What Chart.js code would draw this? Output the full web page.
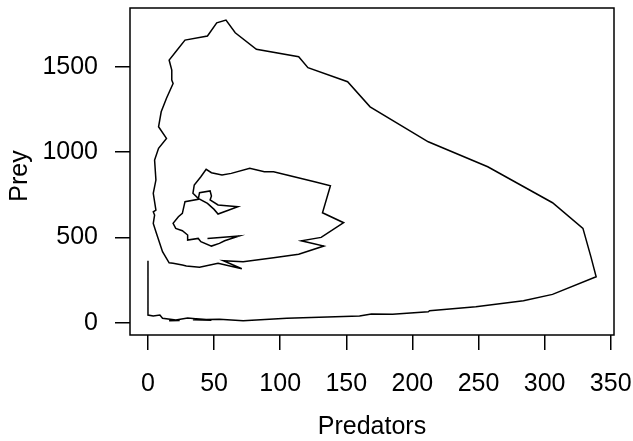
<!DOCTYPE html>
<html>
<head>
<meta charset="utf-8">
<script src="https://cdn.jsdelivr.net/npm/chart.js@4/dist/chart.umd.min.js"></script>
<style>
  html, body { margin: 0; padding: 0; background: #fff; }
</style>
</head>
<body>
<canvas id="chart" width="633" height="441"></canvas>
<script>
// trajectory, in drawing order
const predators = [45, 69, 58, 54, 48, 40, 38, 30, 30, 26, 21, 19, 23, 26, 28, 38, 39, 47, 48, 47,
  53, 68, 53, 50, 45, 38, 34, 35, 40, 44, 48, 56, 63, 77, 88, 95, 126, 138, 132, 148,
  131, 116, 133, 114, 95, 72, 57, 71, 53, 39, 29, 26, 19, 16, 11, 6, 4, 5, 4, 6,
  4, 6, 5, 8, 14, 8, 10, 14, 19, 18, 18, 16, 21, 28, 45, 52, 59, 66, 82, 114,
  121, 151, 168, 212, 257, 306, 329, 335, 339, 306, 284, 248, 213, 212, 185, 169, 160, 105, 72, 54,
  34, 48, 30, 21, 16, 24, 11, 9, 4, 0, 0];
const prey = [494, 508, 480, 465, 449, 475, 494, 484, 514, 539, 553, 582, 621, 641, 709, 723, 762, 772, 742, 719,
  690, 680, 637, 664, 699, 729, 758, 807, 855, 899, 879, 865, 875, 905, 885, 885, 826, 803, 644, 586,
  500, 480, 449, 401, 381, 357, 363, 316, 348, 325, 332, 338, 348, 351, 416, 533, 582, 631, 650, 660,
  758, 836, 953, 1022, 1080, 1148, 1236, 1315, 1402, 1422, 1480, 1539, 1588, 1656, 1680, 1757, 1773, 1699, 1602, 1558,
  1494, 1412, 1265, 1060, 914, 703, 553, 387, 269, 166, 129, 94, 70, 64, 49, 51, 39, 26, 12, 20,
  18, 14, 28, 16, 12, 13, 26, 45, 39, 45, 363];

const xTicks = [0, 50, 100, 150, 200, 250, 300, 350];
const yTicks = [0, 500, 1000, 1500];
const xLabel = 'Predators';
const yLabel = 'Prey';

const FONT = 'Liberation Sans';
const SIZE = 25;

// R style box around the plot region, plus the y label placed like mtext
const boxPlugin = {
  id: 'box',
  afterDraw(chart) {
    const { ctx, chartArea: a } = chart;
    ctx.save();
    ctx.strokeStyle = '#000';
    ctx.lineWidth = 1.5;
    ctx.strokeRect(a.left, a.top, a.right - a.left, a.bottom - a.top);
    ctx.translate(20, 176);
    ctx.rotate(-Math.PI / 2);
    ctx.fillStyle = '#000';
    ctx.font = SIZE + 'px "' + FONT + '"';
    ctx.textAlign = 'center';
    ctx.textBaseline = 'middle';
    ctx.fillText(yLabel, 0, 0);
    ctx.restore();
  }
};

// drop chart.js' automatic label padding so the plot box sits where R put it
function noPad(s) {
  s.paddingTop = 0; s.paddingBottom = 0; s.paddingLeft = 0; s.paddingRight = 0;
}

const points = predators.map((x, i) => ({ x: x, y: prey[i] }));

new Chart(document.getElementById('chart'), {
  type: 'scatter',
  data: {
    datasets: [{
      data: points,
      showLine: true,
      borderColor: '#000',
      borderWidth: 1.5,
      pointRadius: 0,
      fill: false,
      tension: 0
    }]
  },
  options: {
    responsive: false,
    animation: false,
    devicePixelRatio: 1,
    layout: { padding: { top: 8, right: 19, left: 0, bottom: 0 } },
    plugins: { legend: { display: false }, tooltip: { enabled: false } },
    scales: {
      x: {
        type: 'linear',
        min: -13.6,
        max: 352.5,
        afterBuildTicks: s => { s.ticks = xTicks.map(v => ({ value: v })); },
        afterFit: s => { s.height = 106; noPad(s); },
        grid: { drawOnChartArea: false, drawTicks: true, tickLength: 15, color: '#000', lineWidth: 1.5 },
        border: { display: false },
        ticks: {
          color: '#000', padding: 19, maxRotation: 0, autoSkip: false,
          font: { family: FONT, size: SIZE },
          callback: v => String(v)
        },
        title: {
          display: true, text: xLabel, color: '#000', padding: { top: 0, bottom: 1 },
          font: { family: FONT, size: SIZE, lineHeight: 1 }
        }
      },
      y: {
        type: 'linear',
        min: -72,
        max: 1844,
        afterBuildTicks: s => { s.ticks = yTicks.map(v => ({ value: v })); },
        afterFit: s => { s.width = 130; noPad(s); },
        grid: { drawOnChartArea: false, drawTicks: true, tickLength: 15, color: '#000', lineWidth: 1.5 },
        border: { display: false },
        ticks: {
          color: '#000', padding: 17, autoSkip: false,
          font: { family: FONT, size: SIZE },
          callback: v => String(v)
        },
        title: { display: false, text: yLabel }
      }
    }
  },
  plugins: [boxPlugin]
});
</script>
</body>
</html>
